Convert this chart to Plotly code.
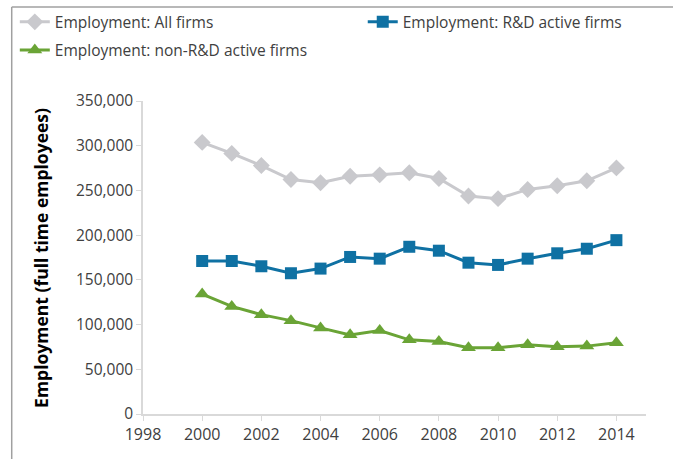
import plotly.graph_objects as go

# Employment by firm type, 2000-2014
years = list(range(2000, 2015))
all_firms = [303700, 291400, 277800, 262200, 258600, 265900, 267400, 269700,
             263300, 243700, 240800, 251100, 255200, 260800, 275200]
rd_active = [171100, 171100, 165200, 157400, 162600, 175600, 173700, 187000,
             182600, 169200, 166700, 173700, 179700, 184800, 194400]
non_rd_active = [134100, 120300, 111100, 104400, 96300, 88500, 93300, 82900,
                 81100, 74100, 74100, 77400, 75200, 75900, 79600]

font_family = "Open Sans"
axis_color = "#d9d9d9"
text_color = "#404040"

fig = go.Figure()

fig.add_trace(go.Scatter(
    x=years, y=all_firms, name="Employment: All firms", mode="lines+markers",
    line=dict(color="#c9c9cd", width=3), marker=dict(symbol="diamond", size=13),
    legend="legend", legendgroup="a"))
fig.add_trace(go.Scatter(
    x=years, y=rd_active, name="Employment: R&D active firms", mode="lines+markers",
    line=dict(color="#0f71a3", width=3), marker=dict(symbol="square", size=12),
    legend="legend2"))
fig.add_trace(go.Scatter(
    x=years, y=non_rd_active, name="Employment: non-R&D active firms", mode="lines+markers",
    line=dict(color="#6aa436", width=3), marker=dict(symbol="triangle-up", size=13),
    legend="legend", legendgroup="b"))

fig.update_layout(
    width=673, height=459,
    margin=dict(l=143, r=27, t=101, b=45, autoexpand=False),
    paper_bgcolor="white", plot_bgcolor="white",
    font=dict(family=font_family, size=15, color=text_color),
    showlegend=True,
    legend=dict(x=0.022, y=0.9885, xref="container", yref="container",
                xanchor="left", yanchor="top", orientation="v",
                tracegroupgap=5, font=dict(size=15.5, color=text_color),
                bgcolor="rgba(0,0,0,0)"),
    legend2=dict(x=0.539, y=0.9885, xref="container", yref="container",
                 xanchor="left", yanchor="top", orientation="v",
                 font=dict(size=15.5, color=text_color),
                 bgcolor="rgba(0,0,0,0)"),
    xaxis=dict(range=[1998, 2015], tickvals=list(range(1998, 2015, 2)),
               showgrid=False, zeroline=False, showline=True, linecolor=axis_color,
               linewidth=1.5, ticks="outside", ticklen=5, tickcolor=axis_color,
               tickfont=dict(size=16, color=text_color)),
    yaxis=dict(range=[0, 350000], dtick=50000, tickformat=",d",
               showgrid=False, zeroline=False, showline=True, linecolor=axis_color,
               linewidth=1.5, ticks="outside", ticklen=5, tickcolor=axis_color,
               tickfont=dict(size=15.5, color=text_color)),
)

# y axis title as a rotated annotation
fig.add_annotation(text="<b>Employment (full time employees)</b>", textangle=-90,
                   xref="paper", yref="paper", x=-0.204, y=0.5,
                   xanchor="center", yanchor="middle", showarrow=False,
                   font=dict(size=17.5, color="black"))

# outer chart frame (only top and left edges fall inside the picture)
fig.add_shape(type="line", xref="paper", yref="paper", x0=-0.261, x1=1.2,
              y0=1.3, y1=1.3, line=dict(color="#a0a0a0", width=1.5))
fig.add_shape(type="line", xref="paper", yref="paper", x0=-0.261, x1=-0.261,
              y0=1.3, y1=-0.3, line=dict(color="#a0a0a0", width=1.5))

fig.write_html("out.html", config={"displayModeBar": False},
               post_script="document.body.style.margin='0';")
